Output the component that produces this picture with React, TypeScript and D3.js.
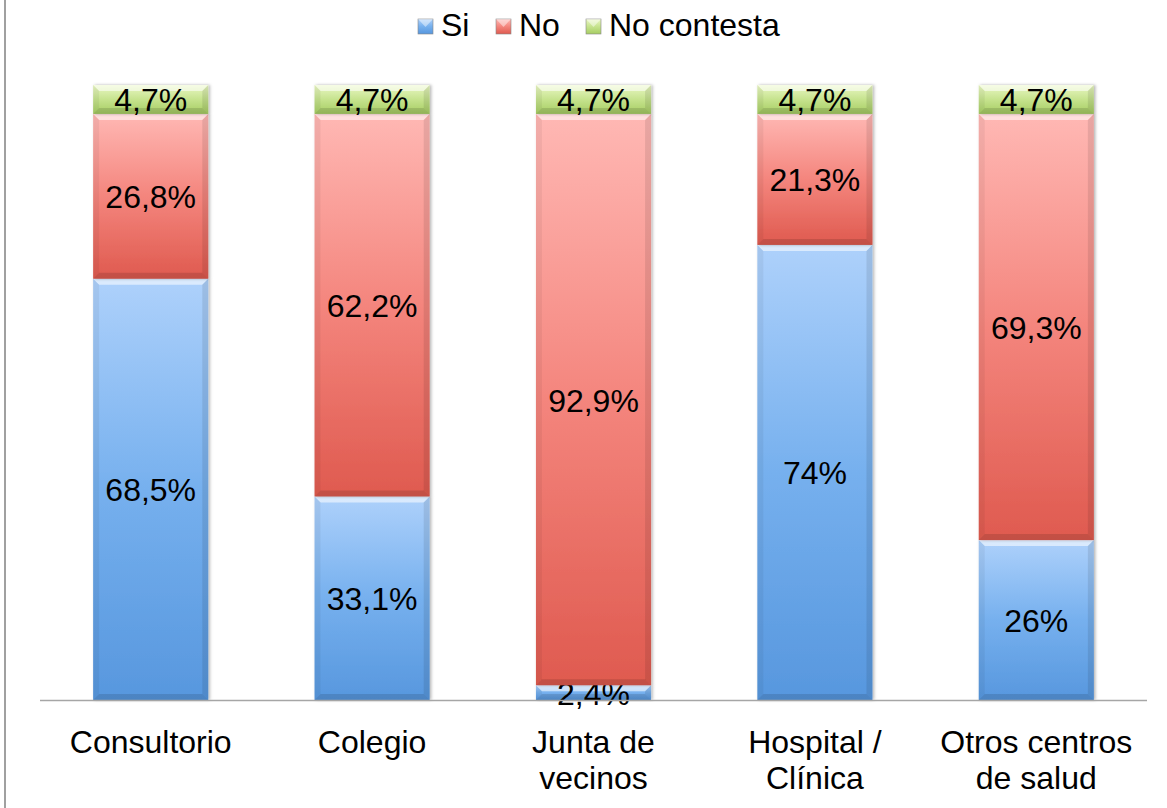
import React from "react";
import * as d3 from "d3";

// Encuesta: lugares de atención — respuestas en porcentaje
const categories: string[][] = [
  ["Consultorio"],
  ["Colegio"],
  ["Junta de", "vecinos"],
  ["Hospital /", "Clínica"],
  ["Otros centros", "de salud"],
];
const siValues = [68.5, 33.1, 2.4, 74, 26];
const noValues = [26.8, 62.2, 92.9, 21.3, 69.3];
const ncValues = [4.7, 4.7, 4.7, 4.7, 4.7];
const siLabels = ["68,5%", "33,1%", "2,4%", "74%", "26%"];
const noLabels = ["26,8%", "62,2%", "92,9%", "21,3%", "69,3%"];
const ncLabels = ["4,7%", "4,7%", "4,7%", "4,7%", "4,7%"];
const seriesNames = ["Si", "No", "No contesta"];

const W = 1167;
const H = 808;
const FONT = "'Liberation Sans', Arial, sans-serif";
const FS = 32;

const palettes = [
  { id: "gSi", top: "#aed1fb", mid: "#76b0ee", bottom: "#5797de" },
  { id: "gNo", top: "#ffb8b4", mid: "#f4857d", bottom: "#df5a4f" },
  { id: "gNc", top: "#eaf7c4", mid: "#c6e38e", bottom: "#a6cd62" },
];

export default function App() {
  const x = d3
    .scaleBand<number>()
    .domain(d3.range(categories.length))
    .range([40, 1147])
    .paddingInner(0.48)
    .paddingOuter(0.24);
  const y = d3.scaleLinear().domain([0, 100]).range([700, 85]);

  const series = [siValues, noValues, ncValues];
  const labels = [siLabels, noLabels, ncLabels];
  const bw = x.bandwidth();
  const bev = 6;

  const segments: React.ReactNode[] = [];
  categories.forEach((_, i) => {
    let acc = 0;
    series.forEach((vals, s) => {
      const v = vals[i];
      const y0 = y(acc);
      const y1 = y(acc + v);
      acc += v;
      const x0 = x(i)!;
      const x1 = x0 + bw;
      const h = y0 - y1;
      const b = Math.min(bev, h / 2);
      segments.push(
        <g key={`s${i}-${s}`}>
          <rect x={x0} y={y1} width={bw} height={h} fill={`url(#${palettes[s].id})`} filter="url(#shadow)" />
          {/* bevelled edges */}
          <polygon
            points={`${x0},${y1} ${x1},${y1} ${x1 - b},${y1 + b} ${x0 + b},${y1 + b}`}
            fill="#ffffff"
            opacity={0.55}
          />
          <polygon
            points={`${x0},${y0} ${x1},${y0} ${x1 - b},${y0 - b} ${x0 + b},${y0 - b}`}
            fill="#000000"
            opacity={0.12}
          />
          <polygon
            points={`${x0},${y1} ${x0 + b},${y1 + b} ${x0 + b},${y0 - b} ${x0},${y0}`}
            fill="#000000"
            opacity={0.05}
          />
          <polygon
            points={`${x1},${y1} ${x1 - b},${y1 + b} ${x1 - b},${y0 - b} ${x1},${y0}`}
            fill="#000000"
            opacity={0.09}
          />
          <text
            x={x0 + bw / 2}
            y={(y0 + y1) / 2 + 12}
            textAnchor="middle"
            fontFamily={FONT}
            fontSize={FS}
            fill="#000"
          >
            {labels[s][i]}
          </text>
        </g>
      );
    });
  });

  const legendItems = [
    { sq: 418, tx: 441 },
    { sq: 496, tx: 519 },
    { sq: 586, tx: 609 },
  ];

  return (
    <svg
      width={W}
      height={H}
      style={{ position: "absolute", left: 0, top: 0, background: "#fff" }}
    >
      <defs>
        {palettes.map((p) => (
          <linearGradient key={p.id} id={p.id} x1="0" y1="0" x2="0" y2="1">
            <stop offset="0%" stopColor={p.top} />
            <stop offset="50%" stopColor={p.mid} />
            <stop offset="100%" stopColor={p.bottom} />
          </linearGradient>
        ))}
        <filter id="shadow" x="-10%" y="-10%" width="120%" height="120%">
          <feDropShadow dx="1.5" dy="0" stdDeviation="1.5" floodColor="#000" floodOpacity="0.3" />
        </filter>
      </defs>

      <line x1={5} y1={0} x2={5} y2={H} stroke="#a0a0a0" strokeWidth={2} />

      {segments}

      <line x1={40} y1={700.5} x2={1147} y2={700.5} stroke="#a6a6a6" strokeWidth={1.5} />

      {categories.map((lines, i) => (
        <text
          key={`c${i}`}
          x={x(i)! + bw / 2}
          textAnchor="middle"
          fontFamily={FONT}
          fontSize={FS}
          fill="#000"
        >
          {lines.map((ln, k) => (
            <tspan key={k} x={x(i)! + bw / 2} y={753 + k * 36}>
              {ln}
            </tspan>
          ))}
        </text>
      ))}

      {seriesNames.map((name, s) => (
        <g key={`l${s}`}>
          <rect
            x={legendItems[s].sq}
            y={19}
            width={15}
            height={15}
            fill={`url(#${palettes[s].id})`}
            stroke="#888"
            strokeWidth={0.6}
          />
          <polygon
            points={`${legendItems[s].sq},19 ${legendItems[s].sq + 15},19 ${legendItems[s].sq + 7.5},27`}
            fill="#fff"
            opacity={0.45}
          />
          <text x={legendItems[s].tx} y={36} fontFamily={FONT} fontSize={FS} fill="#000">
            {name}
          </text>
        </g>
      ))}
    </svg>
  );
}
